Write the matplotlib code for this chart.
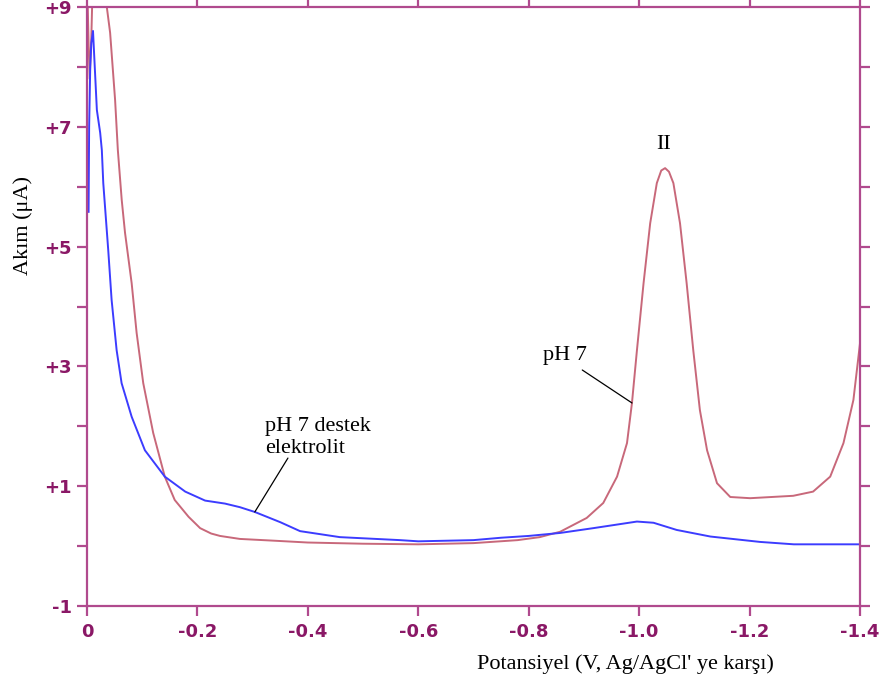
import matplotlib
matplotlib.use("Agg")
import matplotlib.pyplot as plt
import numpy as np

# -----------------------------
# Data
# -----------------------------
# pH 7 (red)
red_v = [0.0, 0.003, 0.005, 0.008, 0.011, 0.036, 0.042, 0.051, 0.056, 0.063, 0.069,
         0.081, 0.09, 0.102, 0.12, 0.141, 0.159, 0.184, 0.205, 0.225, 0.241, 0.277,
         0.34, 0.40, 0.50, 0.60, 0.70, 0.78, 0.82, 0.857, 0.905, 0.935, 0.96,
         0.978, 0.987, 0.996, 1.008, 1.02, 1.032, 1.04, 1.047, 1.054, 1.062, 1.074,
         1.086, 1.098, 1.11, 1.123, 1.141, 1.165, 1.201, 1.24, 1.279, 1.315, 1.346,
         1.37, 1.388, 1.40]
red_i = [9.6, 8.4, 7.8, 8.5, 9.6, 9.0, 8.57, 7.45, 6.61, 5.78, 5.23,
         4.39, 3.56, 2.72, 1.89, 1.16, 0.77, 0.49, 0.30, 0.21, 0.17, 0.12,
         0.09, 0.06, 0.04, 0.03, 0.05, 0.10, 0.15, 0.24, 0.47, 0.72, 1.16,
         1.72, 2.39, 3.27, 4.39, 5.39, 6.06, 6.27, 6.31, 6.25, 6.06, 5.39,
         4.39, 3.27, 2.27, 1.6, 1.05, 0.82, 0.80, 0.82, 0.84, 0.91, 1.16,
         1.72, 2.44, 3.39]

# pH 7 destek elektrolit (blue)
blue_v = [0.003, 0.004, 0.006, 0.008, 0.011, 0.018, 0.024, 0.027, 0.0296, 0.0386,
          0.0447, 0.0538, 0.0628, 0.081, 0.105, 0.141, 0.178, 0.214, 0.25, 0.277,
          0.304, 0.35, 0.386, 0.458, 0.567, 0.60, 0.70, 0.75, 0.80, 0.857, 0.917,
          0.996, 1.026, 1.068, 1.129, 1.219, 1.28, 1.40]
blue_i = [5.58, 7.0, 8.0, 8.4, 8.6, 7.28, 6.9, 6.61, 6.06, 4.94,
          4.11, 3.27, 2.72, 2.16, 1.6, 1.16, 0.91, 0.76, 0.71, 0.65,
          0.57, 0.40, 0.25, 0.15, 0.10, 0.08, 0.10, 0.14, 0.17, 0.22, 0.30,
          0.41, 0.39, 0.27, 0.16, 0.07, 0.03, 0.03]

x_ticks = [0, -0.2, -0.4, -0.6, -0.8, -1.0, -1.2, -1.4]
x_labels = ["0", "-0.2", "-0.4", "-0.6", "-0.8", "-1.0", "-1.2", "-1.4"]
y_ticks = [-1, 1, 3, 5, 7, 9]
y_labels = ["-1", "+1", "+3", "+5", "+7", "+9"]

axis_col = "#B04A8E"
label_col = "#8A1866"
red_col = "#C8687A"
blue_col = "#3C3CFF"

# -----------------------------
# Plot
# -----------------------------
fig = plt.figure(figsize=(8.87, 6.85), dpi=100)
ax = fig.add_axes([0.098, 0.1153, 0.8716, 0.8745])

ax.plot(-np.array(red_v), red_i, color=red_col, lw=1.4, solid_joinstyle="round")
ax.plot(-np.array(blue_v), blue_i, color=blue_col, lw=1.4, solid_joinstyle="round")

ax.set_xlim(0, -1.4)
ax.set_ylim(-1, 9)

for s in ax.spines.values():
    s.set_color(axis_col)
    s.set_linewidth(1.6)

ax.set_xticks(x_ticks)
ax.set_xticklabels(x_labels)
ax.set_yticks(y_ticks)
ax.set_yticklabels(y_labels)
ax.set_yticks(range(-1, 10), minor=True)

ax.tick_params(axis="both", which="both", direction="out", color=axis_col,
               width=1.6, labelcolor=label_col, labelsize=13)
ax.tick_params(axis="x", length=7, pad=5, top=True)
ax.tick_params(axis="y", which="both", length=7, right=True, pad=4)
for lab in ax.get_xticklabels() + ax.get_yticklabels():
    lab.set_fontfamily("DejaVu Sans")
    lab.set_fontweight("bold")

serif = "Liberation Serif"
fs = 16
ax.set_xlabel("Potansiyel (V, Ag/AgCl' ye karşı)", fontfamily=serif, fontsize=fs)
ax.xaxis.set_label_coords(0.696, -0.08)
ax.set_ylabel("Akım (μA)", fontfamily=serif, fontsize=fs)
ax.yaxis.set_label_coords(-0.07, 0.636)

# Annotations
ax.text(-1.045, 6.55, "II", fontfamily=serif, fontsize=fs, ha="center", va="bottom")
ax.text(-0.826, 3.1, "pH 7", fontfamily=serif, fontsize=fs, ha="left", va="baseline")
ax.annotate("", xy=(-0.987, 2.39), xytext=(-0.897, 2.94),
            arrowprops=dict(arrowstyle="-", color="black", lw=0.9,
                            shrinkA=0, shrinkB=0))
ax.text(-0.3225, 1.55, "pH 7 destek\nelektrolit", fontfamily=serif, fontsize=fs,
        ha="left", va="baseline", linespacing=1.25)
ax.annotate("", xy=(-0.304, 0.57), xytext=(-0.364, 1.47),
            arrowprops=dict(arrowstyle="-", color="black", lw=0.9,
                            shrinkA=0, shrinkB=0))

plt.savefig("out.png", dpi=100)
